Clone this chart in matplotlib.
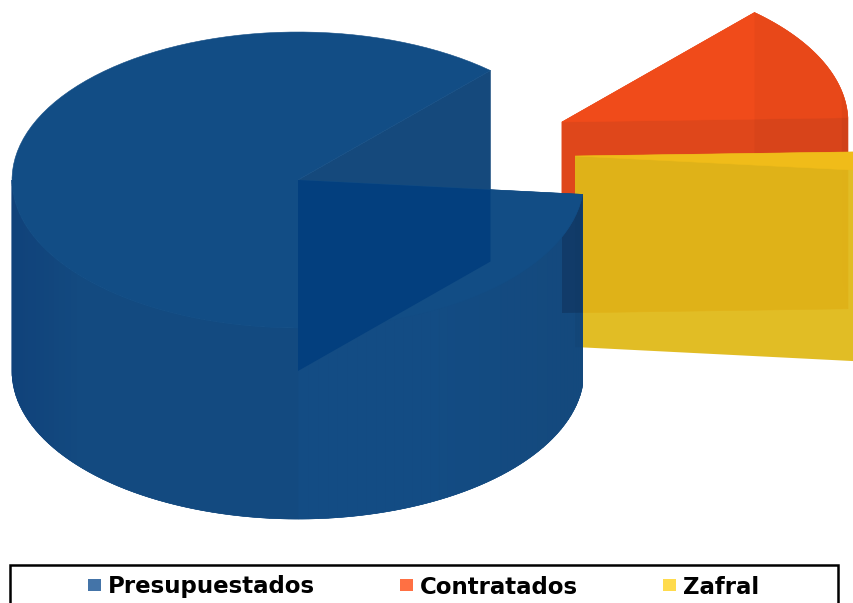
import numpy as np
import matplotlib
matplotlib.use('Agg')
import matplotlib.pyplot as plt
from matplotlib.patches import Polygon, Rectangle

# Chart data
labels = ['Presupuestados', 'Contratados', 'Zafral']
values = [85.2, 12.8, 2.0]
legend_colors = ['#4474a8', '#ff7043', '#ffdb4d']
start_angle = 47.7

# Pie geometry in pixels
rx, ry, depth = 286, 148, 191
centers = [(298, 180), (562, 122), (575, 156)]

fig = plt.figure(figsize=(8.54, 6.03), dpi=100)
ax = fig.add_axes([0, 0, 1, 1])
ax.set_xlim(0, 854)
ax.set_ylim(603, 0)
ax.axis('off')


def arc(center, a1, a2, dy=0, n=120):
    t = np.radians(np.linspace(a1, a2, n))
    return np.column_stack([center[0] + rx * np.cos(t), center[1] - ry * np.sin(t) + dy])


def poly(points, color, alpha=None, z=1, edge=True):
    p = Polygon(points, closed=True, facecolor=color, alpha=alpha, zorder=z,
                edgecolor=color if edge else 'none', linewidth=0.4 if edge else 0)
    ax.add_patch(p)
    return p


def side(center, a1, a2):
    # outer wall between two angles
    top = arc(center, a1, a2)
    return np.vstack([top, top[::-1] + [0, depth]])


def face(center, a):
    # flat cut from the middle to the rim
    rim = arc(center, a, a, n=1)[0]
    c = np.array(center, dtype=float)
    return np.array([c, rim, rim + [0, depth], c + [0, depth]])


def wedge(center, a1, a2):
    return np.vstack([[center], arc(center, a1, a2)])


def mix(c1, c2, f):
    c1 = np.array(matplotlib.colors.to_rgb(c1))
    c2 = np.array(matplotlib.colors.to_rgb(c2))
    return tuple(c1 + (c2 - c1) * f)


# angle limits of each slice, going counter clockwise from the first cut
spans = np.array(values) / sum(values) * 360
blue_a1 = start_angle
blue_a2 = blue_a1 + spans[0]
red_a1 = blue_a2 - 360 + spans[2]
red_a2 = start_angle
yellow_a1 = blue_a2 - 360
yellow_a2 = red_a1

# red slice, behind everything
red_c = centers[1]
poly(side(red_c, red_a1, red_a2), '#df481b', z=1)
poly(face(red_c, red_a2), '#e6491b', z=1.1)
poly(face(red_c, red_a1), '#df471b', z=1.2)
poly(wedge(red_c, red_a1, red_a2), '#f04b1a', z=1.3)
poly(side(red_c, red_a1, red_a2), '#000000', alpha=0.03, z=1.4, edge=False)
poly(side(red_c, red_a1, 12), '#000000', alpha=0.035, z=1.4, edge=False)

# yellow slice, see through over the red one
yel_c = centers[2]
outline = face(yel_c, yellow_a1)
rim_top = arc(yel_c, yellow_a2, yellow_a2, n=1)[0]
poly(np.vstack([[yel_c], [rim_top], outline[1:]]), '#e0b918', alpha=0.945, z=2, edge=False)
poly(wedge(yel_c, yellow_a1, yellow_a2), '#f0bc19', z=2.1)

# blue slice
blue_c = centers[0]
poly(face(blue_c, blue_a1), '#15497c', z=3)
poly(face(blue_c, blue_a2), '#124c84', z=3.1)
poly(side(blue_c, 180, blue_a2), '#134b82', z=3.2)

# wall shading, darker towards the edges
edges = np.linspace(180, blue_a2, 90)
for a1, a2 in zip(edges[:-1], edges[1:]):
    x = np.cos(np.radians((a1 + a2) / 2))
    if x < 0:
        col = mix('#134a80', '#10427a', max(0, -x - 0.75) / 0.25)
    else:
        col = mix('#134c84', '#14497d', min(1, max(0, x - 0.45) / 0.5))
    poly(side(blue_c, a1, a2), col, z=3.3)

# the red wall shows through the blue one
shadow = poly(face(red_c, red_a1), '#10335c', alpha=0.6, z=3.4, edge=False)
shadow.set_clip_path(Polygon(side(blue_c, 180, blue_a2), closed=True, transform=ax.transData))
shadow2 = poly(face(yel_c, yellow_a1), '#10335c', alpha=0.12, z=3.45, edge=False)
shadow2.set_clip_path(Polygon(side(blue_c, 180, blue_a2), closed=True, transform=ax.transData))

poly(wedge(blue_c, blue_a1, blue_a2), '#124d85', z=3.5)

# both cuts overlap in the darkest part
dark = poly(face(blue_c, blue_a2), '#033f7e', z=3.6, edge=False)
dark.set_clip_path(Polygon(face(blue_c, blue_a1), closed=True, transform=ax.transData))

# legend
ax.add_patch(Rectangle((10, 565), 828, 50, facecolor='white', edgecolor='black',
                       linewidth=1.8, zorder=5, clip_on=True))
marker_x = [88, 400, 663]
for label, color, x in zip(labels, legend_colors, marker_x):
    ax.add_patch(Rectangle((x, 579), 13, 12, facecolor=color, edgecolor='none', zorder=6))
    ax.text(x + 20, 587, label, fontsize=16.5, fontweight='bold', family='DejaVu Sans',
            color='black', va='center', ha='left', zorder=6)

plt.savefig('out.png', dpi=100)
